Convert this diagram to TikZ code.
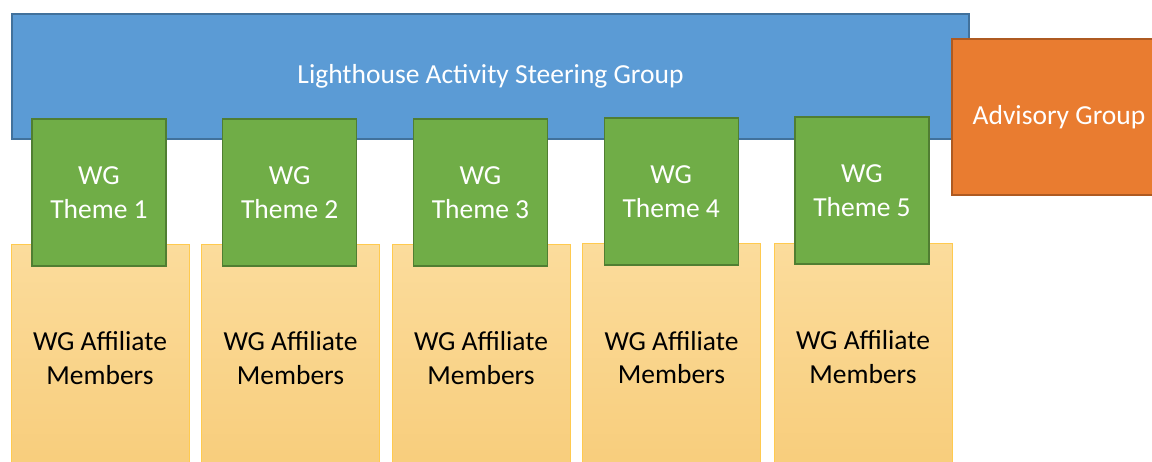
\documentclass[tikz,border=0pt]{standalone}
\usepackage{fontspec}
\setmainfont{Carlito}
\definecolor{steerfill}{HTML}{5B9BD5}
\definecolor{steerline}{HTML}{41719C}
\definecolor{wgfill}{HTML}{70AD47}
\definecolor{wgline}{HTML}{507E32}
\definecolor{advfill}{HTML}{E97C30}
\definecolor{advline}{HTML}{AE5A21}
\definecolor{memtop}{HTML}{FBDC9C}
\definecolor{membot}{HTML}{F8CD7B}
\definecolor{memline}{HTML}{FFCA4F}
\begin{document}
\begin{tikzpicture}[x=1pt,y=-1pt,
  lbl/.style={inner sep=0pt, align=center, font=\fontsize{27.5pt}{33.5pt}\selectfont},
  steerbox/.style={lbl, draw=steerline, fill=steerfill, line width=1.4pt, text=white},
  advbox/.style={lbl, draw=advline, fill=advfill, line width=1.4pt, text=white},
  themebox/.style={lbl, draw=wgline, fill=wgfill, line width=1.4pt, text=white,
    minimum width=134pt, minimum height=147pt},
  membox/.style={lbl, draw=memline, top color=memtop, bottom color=membot, line width=0.9pt, text=black,
    minimum width=178pt, minimum height=228pt}]
\useasboundingbox (0,0) rectangle (1152,461);
\clip (0,0) rectangle (1152,461);
\node[steerbox, minimum width=957pt, minimum height=125pt] (steer) at (490.5,76.5) {Lighthouse Activity Steering Group};
\node[advbox, minimum width=214pt, minimum height=156pt] (adv) at (1059,117) {Advisory Group};
\foreach \i/\mx/\my/\tx/\ty in {1/100/358/99/192.5, 2/290.5/358/289.75/192.5, 3/481/358/480.5/192.5, 4/671.5/357.5/671.25/191.5, 5/863/357/862/190.5} {
  \node[membox] (m\i) at (\mx,\my) {WG Affiliate\\Members};
  \node[themebox] (t\i) at (\tx,\ty) {WG\\Theme \i};
}
\end{tikzpicture}
\end{document}
